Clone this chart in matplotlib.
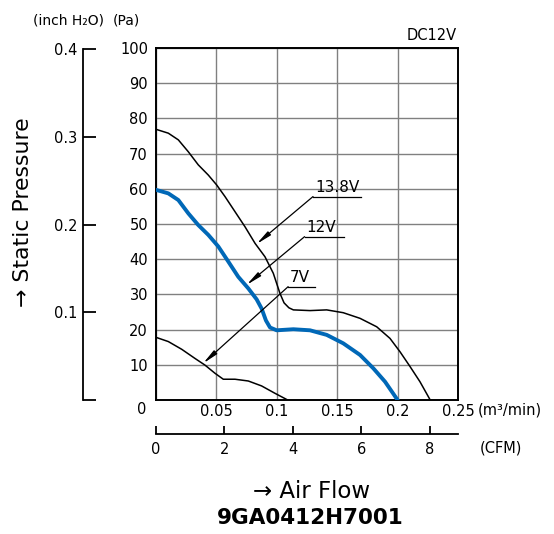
import matplotlib
matplotlib.use('Agg')
import matplotlib.pyplot as plt
import numpy as np

# P-Q curves (m3/min, Pa)
flow_138 = [0.0, 0.0102, 0.0185, 0.0268, 0.035, 0.0433, 0.0502, 0.0571, 0.0654,
            0.0737, 0.082, 0.0902, 0.0971, 0.1026, 0.1060, 0.1100, 0.1137, 0.1275,
            0.1413, 0.155, 0.1689, 0.1827, 0.1937, 0.202, 0.2103, 0.2185, 0.227]
pres_138 = [76.9, 75.8, 73.9, 70.5, 66.8, 63.9, 61.1, 57.8, 53.5,
            49.2, 44.5, 40.7, 36.0, 30.3, 27.6, 26.2, 25.6, 25.4,
            25.6, 24.8, 23.2, 20.8, 17.5, 13.7, 9.5, 5.2, 0.0]

flow_12 = [0.0, 0.0102, 0.0185, 0.0268, 0.035, 0.0433, 0.0516, 0.0599, 0.0681,
           0.0764, 0.0833, 0.0874, 0.0910, 0.0944, 0.0999, 0.1137, 0.1275, 0.1413,
           0.155, 0.1689, 0.1799, 0.1896, 0.200]
pres_12 = [59.7, 58.7, 56.8, 53.0, 49.7, 46.9, 43.6, 39.3, 35.0,
           31.7, 28.6, 26.0, 22.6, 20.6, 19.8, 20.1, 19.8, 18.5,
           16.1, 12.8, 9.0, 5.2, 0.0]

flow_7 = [0.0, 0.0102, 0.0213, 0.0323, 0.0406, 0.0488, 0.0557, 0.0654, 0.0764,
          0.0874, 0.0985, 0.1090]
pres_7 = [17.8, 16.6, 14.4, 11.8, 9.9, 7.6, 5.9, 5.9, 5.4,
          4.0, 1.9, 0.0]

# labels: text, underline start/end x, underline y, arrow tip
labels = ['13.8V', '12V', '7V']
label_x0 = [0.130, 0.123, 0.1094]
label_x1 = [0.170, 0.156, 0.132]
label_y = [57.8, 46.4, 32.2]
tip_x = [0.0832, 0.075, 0.039]
tip_y = [44.3, 32.7, 10.4]

pa_ticks = list(range(0, 101, 10))
flow_ticks = [0, 0.05, 0.1, 0.15, 0.2, 0.25]
inch_ticks = [0, 0.1, 0.2, 0.3, 0.4]
cfm_ticks = [0, 2, 4, 6, 8]

W, H = 554, 534
fig = plt.figure(figsize=(W / 100, H / 100), dpi=100)
ax = fig.add_axes([156 / W, 1 - 400 / H, 302 / W, 352 / H])

def fx(px):
    return px / W

def fy(py):
    return 1 - py / H

ax.plot(flow_138, pres_138, color='black', lw=1.1, zorder=3, solid_joinstyle='round')
ax.plot(flow_12, pres_12, color='#0068b7', lw=2.8, zorder=3, solid_joinstyle='round')
ax.plot(flow_7, pres_7, color='black', lw=1.1, zorder=3, solid_joinstyle='round')

for t, x0, x1, y, tx, ty in zip(labels, label_x0, label_x1, label_y, tip_x, tip_y):
    ax.plot([x0, x1], [y, y], color='black', lw=0.9, zorder=4)
    ax.text(x0 + 0.0015, y + 0.4, t, fontsize=11, ha='left', va='bottom', zorder=4)
    ax.annotate('', xy=(tx, ty), xytext=(x0, y),
                arrowprops=dict(arrowstyle='-|>,head_length=0.9,head_width=0.14',
                                color='black', lw=0.9, shrinkA=0, shrinkB=0,
                                mutation_scale=10), zorder=4)

ax.set_xlim(0, 0.25)
ax.set_ylim(0, 100)
ax.set_xticks(flow_ticks, [''] + ['0.05', '0.1', '0.15', '0.2', '0.25'])
ax.set_yticks(pa_ticks, [''] + [str(v) for v in pa_ticks[1:]])
ax.tick_params(axis='both', length=0, labelsize=10.5)
ax.tick_params(axis='y', pad=5.8)
ax.tick_params(axis='x', pad=3)
ax.grid(True, color='#808080', lw=1.0)
ax.set_axisbelow(True)
for s in ax.spines.values():
    s.set_linewidth(1.4)
ax.text(-0.0116, -2.8, '0', fontsize=10.5, ha='center', va='center')

# inch H2O scale
sec = ax.secondary_yaxis((83 - 156) / 302,
                         functions=(lambda p: p / 249.089, lambda i: i * 249.089))
sec.set_yticks(inch_ticks, [''] + [str(v) for v in inch_ticks[1:]])
sec.tick_params(direction='in', length=9.4, width=1.3, labelsize=10.5, pad=4.3)
sec.spines['left'].set_linewidth(1.3)
sec.spines['left'].set_bounds(0, 0.4)

# CFM scale
secx = ax.secondary_xaxis(-(434 - 400) / 352,
                          functions=(lambda m: m / 0.0283168, lambda c: c * 0.0283168))
secx.set_xticks(cfm_ticks, [str(v) for v in cfm_ticks])
secx.tick_params(direction='in', length=5.8, width=1.3, labelsize=10.5, pad=6)
secx.spines['bottom'].set_linewidth(1.3)

fig.text(fx(33), fy(21), '(inch H₂O)', fontsize=10, ha='left', va='center')
fig.text(fx(113), fy(21), '(Pa)', fontsize=10, ha='left', va='center')
fig.text(fx(457), fy(35), 'DC12V', fontsize=10.5, ha='right', va='center')
fig.text(fx(478), fy(410), '(m³/min)', fontsize=10.5, ha='left', va='center')
fig.text(fx(480), fy(448), '(CFM)', fontsize=10.5, ha='left', va='center')
fig.text(fx(23), fy(212), '→ Static Pressure', fontsize=15.8, rotation=90,
         ha='center', va='center')
fig.text(fx(312), fy(492), '→ Air Flow', fontsize=16.5, ha='center', va='center')
fig.text(fx(310), fy(518), '9GA0412H7001', fontsize=15.5, fontweight='bold',
         ha='center', va='center')

fig.savefig('out.png', dpi=100)
